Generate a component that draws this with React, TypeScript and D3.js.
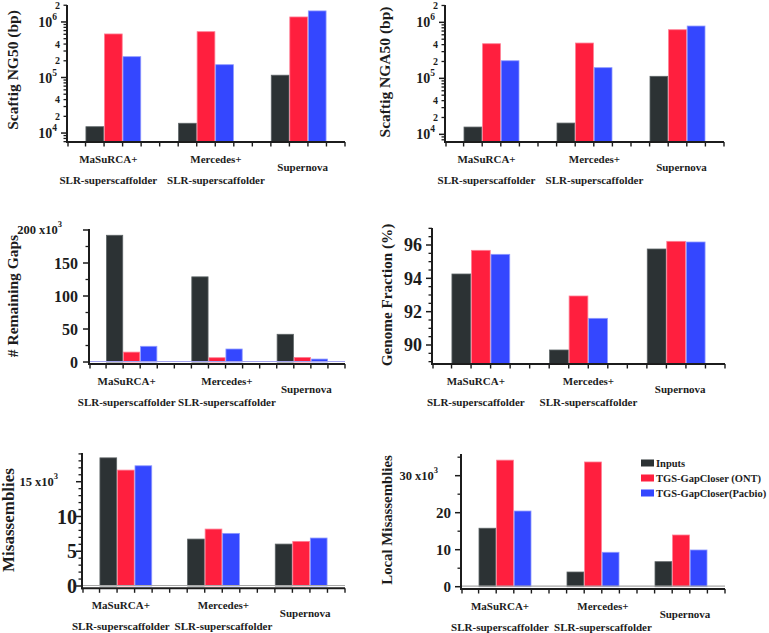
import React, { useEffect, useRef } from "react";
import * as d3 from "d3";

// categories (two-line x labels) and series
const categories = [
  ["MaSuRCA+", "SLR-superscaffolder"],
  ["Mercedes+", "SLR-superscaffolder"],
  ["Supernova"],
];
const seriesNames = ["Inputs", "TGS-GapCloser (ONT)", "TGS-GapCloser(Pacbio)"];

// Scaftig NG50 (bp)
const ng50Inputs = [13000, 15000, 110000];
const ng50Ont = [608000, 668000, 1230000];
const ng50Pacbio = [237000, 170000, 1580000];

// Scaftig NGA50 (bp)
const nga50Inputs = [13500, 15900, 108700];
const nga50Ont = [415000, 427000, 738000];
const nga50Pacbio = [206000, 155000, 859000];

// # Remaining Gaps (x10^3)
const gapsInputs = [192, 129, 42];
const gapsOnt = [15, 6.5, 7];
const gapsPacbio = [23.8, 19.7, 4.5];

// Genome Fraction (%)
const fractionInputs = [94.26, 89.7, 95.76];
const fractionOnt = [95.68, 92.94, 96.22];
const fractionPacbio = [95.44, 91.6, 96.18];

// Misassemblies (x10^3)
const misInputs = [18.43, 6.75, 6.03];
const misOnt = [16.67, 8.19, 6.42];
const misPacbio = [17.29, 7.57, 6.9];

// Local Misassemblies (x10^3)
const localInputs = [15.8, 3.97, 6.76];
const localOnt = [34.2, 33.7, 13.97];
const localPacbio = [20.45, 9.3, 9.92];

// tick labels
const logMajorTicks = [1e4, 1e5, 1e6];
const logMinorLabels = [2e4, 4e4, 2e5, 4e5, 2e6];
const gapsTicks = [0, 50, 100, 150, 200];
const fractionTicks = [90, 92, 94, 96];
const misTicks = [0, 5, 10, 15];
const localTicks = [0, 10, 20, 30];

const colors = ["#2c3234", "#ff1f3e", "#3447ff"];
const edges = ["#5d6466", "#ff7d93", "#8d98ff"];
const FONT = "'Liberation Serif', 'Times New Roman', serif";
const INK = "#1c1c1c";
const SLOTS = 15;
const labelShift = [-5, 10, 4];

const panels = [
  {
    title: "Scaftig NG50 (bp)", tx: 13, ty: 70, ts: 15.5,
    log: true, domain: [6900, 2.02e6], x0: 67, x1: 345, top: 5, bottom: 142,
    series: [ng50Inputs, ng50Ont, ng50Pacbio],
  },
  {
    title: "Scaftig NGA50 (bp)", tx: 385, ty: 72, ts: 15.5,
    log: true, domain: [7300, 2.04e6], x0: 445, x1: 724, top: 5, bottom: 142,
    series: [nga50Inputs, nga50Ont, nga50Pacbio],
  },
  {
    title: "# Remaining Gaps", tx: 13, ty: 296, ts: 15.5,
    log: false, domain: [-3, 201.5], x0: 89, x1: 345, top: 229, bottom: 364,
    series: [gapsInputs, gapsOnt, gapsPacbio],
    ticks: gapsTicks, minor: 25, mult: true, zeroLine: "#a4a4f2",
    fs: 16, gap: 11, multGap: 27,
  },
  {
    title: "Genome Fraction (%)", tx: 387, ty: 295, ts: 15.2,
    log: false, domain: [88.86, 97.02], x0: 432, x1: 725, top: 228, bottom: 364,
    series: [fractionInputs, fractionOnt, fractionPacbio],
    ticks: fractionTicks, minor: 0.5, mult: false, fromBottom: true,
    fs: 18, gap: 10, multGap: 0,
  },
  {
    title: "Misassemblies", tx: 8, ty: 520, ts: 17,
    log: false, domain: [-0.33, 19.13], x0: 82, x1: 345, top: 453, bottom: 588.3,
    series: [misInputs, misOnt, misPacbio],
    ticks: misTicks, minor: 1, mult: true, zeroLine: "#a8a8a8",
    fs: 20, gap: 5, multGap: 24,
  },
  {
    title: "Local Misassemblies", tx: 387, ty: 520, ts: 14.8,
    log: false, domain: [-0.62, 35.86], x0: 461, x1: 725, top: 454, bottom: 589,
    series: [localInputs, localOnt, localPacbio],
    ticks: localTicks, minor: 5, mult: true, zeroLine: "#a8a8a8", legend: true,
    fs: 15, gap: 10, multGap: 23,
  },
];

const App = () => {
  const chartEl = useRef(null);

  useEffect(() => {
    const svg = d3.select(chartEl.current);
    svg.selectAll("*").remove();

    panels.forEach((p: any) => {
      const g = svg.append("g");
      const x = d3.scaleLinear().domain([0, SLOTS]).range([p.x0, p.x1]);
      const y: any = p.log
        ? d3.scaleLog().domain(p.domain).range([p.bottom, p.top])
        : d3.scaleLinear().domain(p.domain).range([p.bottom, p.top]);
      const base = p.log || p.fromBottom ? p.bottom : y(0);
      const bw = x(1) - x(0);

      // bars
      p.series.forEach((vals: number[], si: number) => {
        g.selectAll(null)
          .data(vals)
          .enter()
          .append("rect")
          .attr("x", (d, ci) => x(1 + ci * 5 + si) + 0.4)
          .attr("width", bw - 0.8)
          .attr("y", (d) => y(d))
          .attr("height", (d) => base - y(d))
          .attr("fill", colors[si])
          .attr("stroke", edges[si])
          .attr("stroke-width", 0.8);
      });

      if (p.zeroLine) {
        g.append("line")
          .attr("x1", p.x0).attr("x2", p.x1)
          .attr("y1", y(0) - 0.5).attr("y2", y(0) - 0.5)
          .attr("stroke", p.zeroLine).attr("stroke-width", 1.2);
      }

      // axes lines
      g.append("line")
        .attr("x1", p.x0).attr("x2", p.x0)
        .attr("y1", p.top).attr("y2", p.bottom + 1)
        .attr("stroke", INK).attr("stroke-width", 2);
      g.append("line")
        .attr("x1", p.x0 - 1).attr("x2", p.x1)
        .attr("y1", p.bottom).attr("y2", p.bottom)
        .attr("stroke", INK).attr("stroke-width", 2);

      // x ticks
      g.selectAll(null)
        .data(d3.range(SLOTS + 1))
        .enter()
        .append("line")
        .attr("x1", (d) => x(d) + (d === 0 ? 1 : 0))
        .attr("x2", (d) => x(d) + (d === 0 ? 1 : 0))
        .attr("y1", p.bottom)
        .attr("y2", p.bottom + 4.5)
        .attr("stroke", INK)
        .attr("stroke-width", 1.4);

      // y ticks
      let major: number[];
      let minor: number[];
      if (p.log) {
        major = logMajorTicks;
        minor = y.ticks().filter((v: number) => !logMajorTicks.includes(v));
      } else {
        major = p.ticks;
        const lo = Math.ceil(p.domain[0] / p.minor) * p.minor;
        minor = d3.range(lo, p.domain[1] + 1e-9, p.minor).filter(
          (v: number) => !major.some((m) => Math.abs(m - v) < 1e-6)
        );
      }
      g.selectAll(null).data(minor).enter().append("line")
        .attr("x1", p.x0 - 3.5).attr("x2", p.x0)
        .attr("y1", (d) => y(d)).attr("y2", (d) => y(d))
        .attr("stroke", INK).attr("stroke-width", 1.3);
      g.selectAll(null).data(major).enter().append("line")
        .attr("x1", p.x0 - 6).attr("x2", p.x0)
        .attr("y1", (d) => y(d)).attr("y2", (d) => y(d))
        .attr("stroke", INK).attr("stroke-width", 1.5);

      const tickText = (v: number, size: number, xEnd: number) =>
        g.append("text")
          .attr("x", xEnd)
          .attr("y", y(v))
          .attr("dy", "0.36em")
          .attr("text-anchor", "end")
          .attr("font-family", FONT)
          .attr("font-weight", "bold")
          .attr("font-size", size)
          .attr("fill", INK);

      if (p.log) {
        logMajorTicks.forEach((v) => {
          const t = tickText(v, 14, p.x0 - 10);
          t.append("tspan").text("10");
          t.append("tspan").attr("dy", -7).attr("font-size", 9.5).text(String(Math.round(Math.log10(v))));
        });
        logMinorLabels.forEach((v) => {
          const m = Math.round(v / Math.pow(10, Math.floor(Math.log10(v))));
          tickText(v, 10, p.x0 - 7).text(String(m));
        });
      } else {
        p.ticks.forEach((v: number, i: number) => {
          if (p.mult && i === p.ticks.length - 1) {
            const t = tickText(v, 12.5, p.x0 - p.multGap);
            t.append("tspan").text(v + " x10");
            t.append("tspan").attr("dy", -7).attr("font-size", 8.5).text("3");
          } else {
            tickText(v, p.fs, p.x0 - p.gap).text(String(v));
          }
        });
      }

      // category labels
      categories.forEach((lines, ci) => {
        const cx = (x(1 + ci * 5) + x(4 + ci * 5)) / 2 + labelShift[ci];
        const ys = lines.length === 2 ? [17, 38] : [25];
        lines.forEach((s, li) => {
          g.append("text")
            .attr("x", cx)
            .attr("y", p.bottom + ys[li])
            .attr("dy", "0.35em")
            .attr("text-anchor", "middle")
            .attr("font-family", FONT)
            .attr("font-weight", "bold")
            .attr("font-size", 11)
            .attr("fill", INK)
            .text(s);
        });
      });

      // y title
      g.append("text")
        .attr("transform", `translate(${p.tx},${p.ty}) rotate(-90)`)
        .attr("dy", "0.35em")
        .attr("text-anchor", "middle")
        .attr("font-family", FONT)
        .attr("font-weight", "bold")
        .attr("font-size", p.ts)
        .attr("fill", INK)
        .text(p.title);

      if (p.legend) {
        const lg = g.append("g").attr("transform", "translate(641,463)");
        seriesNames.forEach((name, si) => {
          lg.append("rect")
            .attr("x", 0).attr("y", si * 15 - 3.5)
            .attr("width", 13).attr("height", 7)
            .attr("fill", colors[si]);
          lg.append("text")
            .attr("x", 15).attr("y", si * 15)
            .attr("dy", "0.35em")
            .attr("font-family", FONT)
            .attr("font-weight", "bold")
            .attr("font-size", 10.5)
            .attr("fill", INK)
            .text(name);
        });
      }
    });
  }, [chartEl]);

  return (
    <svg
      ref={chartEl}
      width={769}
      height={633}
      style={{ position: "absolute", left: 0, top: 0, background: "#fff" }}
    ></svg>
  );
};

export default App;
